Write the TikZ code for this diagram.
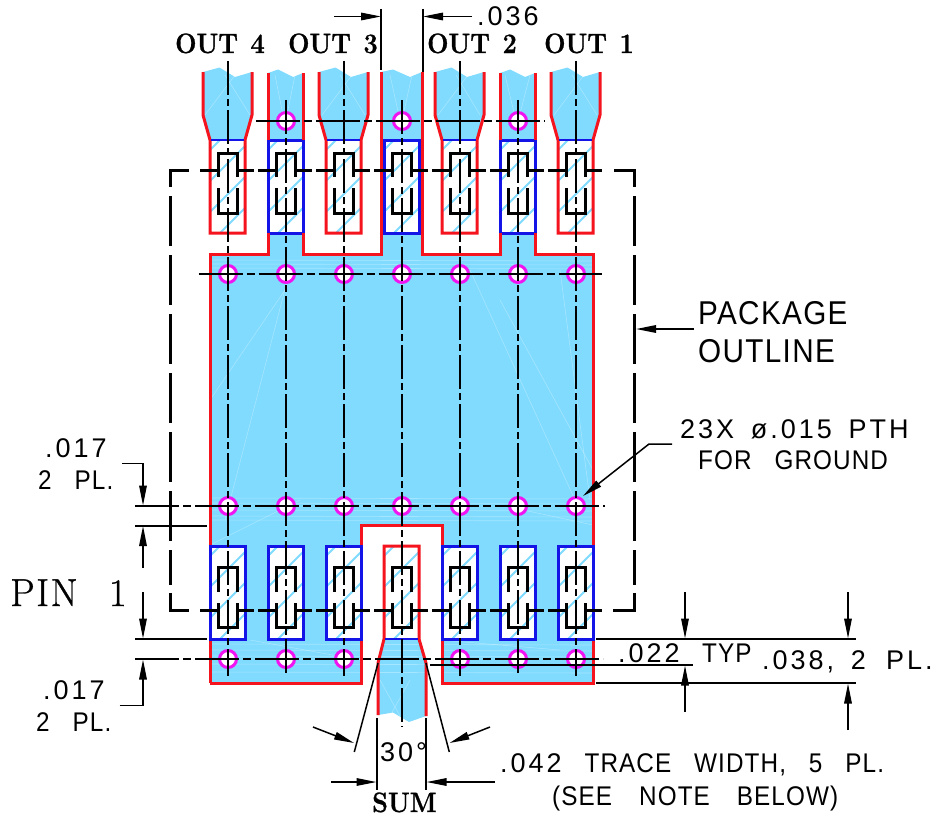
\documentclass[tikz,border=0pt]{standalone}
\usepackage{fontspec}
\usetikzlibrary{arrows.meta,calc}
\newfontfamily\cadl[LetterSpace=4,FakeStretch=.9]{Liberation Sans}
\newfontfamily\cadn[LetterSpace=11]{Liberation Sans}
\newfontfamily\boldf[FakeStretch=.9,BoldFeatures={FakeBold=1}]{Latin Modern Roman}
\newfontfamily\pinf[FakeBold=.8,LetterSpace=4]{Latin Modern Roman}
\definecolor{cu}{HTML}{80DBFF}
\definecolor{redl}{HTML}{F5141E}
\definecolor{bluel}{HTML}{1414E6}
\definecolor{magl}{HTML}{F014F0}
\tikzset{
  x=1pt,y=-1pt,
  copper/.style={fill=cu,draw=none},
  tri/.style={draw=white,opacity=.3,line width=.6pt},
  redline/.style={draw=redl,line width=3pt,line join=miter},
  padblue/.style={draw=bluel,line width=3pt,fill=white},
  hatchl/.style={draw=cu,line width=1.8pt},
  via/.style={draw=magl,line width=3pt,fill=white},
  vcl/.style={draw=black,line width=2pt,dash pattern=on 34pt off 4pt on 7pt off 4pt},
  hcl/.style={draw=black,line width=2pt,dash pattern=on 44pt off 4pt on 8pt off 4pt},
  body/.style={draw=black,line width=3pt},
  pkgc/.style={draw=black,line width=3pt},
  pkg/.style={draw=black,line width=3pt,dash pattern=on 50pt off 9pt},
  dim/.style={draw=black,line width=1.5pt},
  arr/.style={draw=black,line width=1.5pt,-{Triangle[length=20pt,width=7.5pt]}},
  cadt/.style={font=\cadl\fontsize{27}{27}\selectfont,inner sep=0pt,anchor=base west},
  cadv/.style={font=\cadn\fontsize{27}{27}\selectfont,inner sep=0pt,anchor=base west},
  cadb/.style={font=\cadl\fontsize{33}{33}\selectfont,inner sep=0pt,anchor=base west},
  boldt/.style={font=\boldf\bfseries\fontsize{28}{28}\selectfont,inner sep=0pt,anchor=base west},
}
\newcommand{\padhatch}[3]{% centre x, top y, bottom y
  \begin{scope}
    \clip (#1-17.5,#2) rectangle (#1+17.5,#3);
    \foreach \k in {10,41,72,103}
      \draw[hatchl] (#1-17.5,#2+\k) -- (#1+17.5,#2+\k-35);
  \end{scope}}
\newcommand{\wsp}{\hspace{.85em}}
\newcommand{\wsv}{\hspace{.62em}}
\begin{document}
\begin{tikzpicture}
\useasboundingbox (0,0) rectangle (939,816);
% copper
\fill[copper] (210,254) -- (268,254) -- (268,73) -- (278,69.5) -- (293,77) -- (303,73) -- (303,254) -- (381,254) -- (381,72) -- (393,69.5) -- (410,77) -- (422,72) -- (422,254) -- (500,254) -- (500,73) -- (510,69.5) -- (525,77) -- (535,73) -- (535,254) -- (593,254) -- (593,683) -- (442,683) -- (442,525) -- (361,525) -- (361,683) -- (210,683) -- cycle;
\foreach \c in {227.5,343.5,459.5,575.5}
  \fill[copper] (\c-24.5,72) -- (\c-8,67.5) -- (\c+7.5,77) -- (\c+24.5,72) -- (\c+24.5,115) -- (\c+17.5,140) -- (\c-17.5,140) -- (\c-24.5,115) -- cycle;
\fill[copper] (384,639) -- (419,639) -- (426,663) -- (426,716) -- (409,722) -- (393,712.5) -- (378,715) -- (378,663) -- cycle;
% triangulation traces
\foreach \y in {260,264,268,498,503,510,516,520,644,650,656,664,672}
  \draw[tri] (210,\y) -- (593,\y+1);
\foreach \a/\b/\c/\d in {210/400/285/290,225/520/290/270,470/270/575/500,500/300/593/470,560/270/590/500,300/500/210/545,593/525/500/505,440/640/560/650,250/640/360/660,380/680/400/716,410/680/390/716,285/125/275/75,285/125/295/75,401/125/390/75,401/125/412/75,517/125/505/75,517/125/530/75,205/115/235/75,225/75/250/115,322/115/352/75,340/75/365/115,438/115/468/75,456/75/480/115,554/115/584/75,572/75/597/115}
  \draw[tri] (\a,\b) -- (\c,\d);
% pads
\foreach \c in {285.5,401.5,517.5}{
  \draw[padblue] (\c-17.5,140) rectangle (\c+17.5,233);
  \padhatch{\c}{140}{233}
  \draw[bluel,line width=3pt] (\c-17.5,140) rectangle (\c+17.5,233);}
\foreach \c in {227.5,343.5,459.5,575.5}{
  \fill[white] (\c-17.5,140) rectangle (\c+17.5,233);
  \padhatch{\c}{140}{233}}
\foreach \c in {227.5,285.5,343.5,459.5,517.5,575.5}{
  \draw[padblue] (\c-17.5,546) rectangle (\c+17.5,639);
  \padhatch{\c}{546}{639}}
\fill[white] (384,546) rectangle (419,639);
\padhatch{401.5}{546}{639}
% red outlines
\draw[redline] (210,683) -- (210,254) -- (268,254) -- (268,233);
\draw[redline] (268,140) -- (268,73);
\draw[redline] (303,73) -- (303,140);
\draw[redline] (303,233) -- (303,254) -- (381,254) -- (381,72);
\draw[redline] (422,72) -- (422,254) -- (500,254) -- (500,233);
\draw[redline] (500,140) -- (500,73);
\draw[redline] (535,73) -- (535,140);
\draw[redline] (535,233) -- (535,254) -- (593,254) -- (593,546);
\draw[redline] (593,639) -- (593,683) -- (442,683) -- (442,525) -- (361,525) -- (361,683) -- (210,683);
\foreach \c in {227.5,343.5,459.5,575.5}{
  \draw[redline] (\c-24.5,72) -- (\c-24.5,115) -- (\c-17.5,140) -- (\c-17.5,233) -- (\c+17.5,233) -- (\c+17.5,140) -- (\c+24.5,115) -- (\c+24.5,72);
  \draw[bluel,line width=1.8pt] (\c-16.5,140) -- (\c+16.5,140);}
\draw[redline] (378,715) -- (378,663) -- (384,639) -- (384,546) -- (419,546) -- (419,639) -- (426,663) -- (426,716);
\draw[bluel,line width=1.8pt] (385,639) -- (418,639);
\foreach \c in {227.5,285.5,343.5,459.5,517.5,575.5}
  \draw[bluel,line width=3pt] (\c-17.5,546) rectangle (\c+17.5,639);
% vias
\foreach \c in {286,402,518}
  \draw[via] (\c,121) circle (8.5);
\foreach \c in {228,286,344,402,460,518,576}{
  \draw[via] (\c,274) circle (8.5);
  \draw[via] (\c,506) circle (8.5);}
\foreach \c in {228,286,344,460,518,576}
  \draw[via] (\c,659) circle (8.5);
% centre lines
\foreach \c in {228,344,460,576}
  \draw[vcl] (\c,61) -- (\c,676);
\foreach \c in {286,518}
  \draw[vcl] (\c,100) -- (\c,676);
\draw[vcl] (402,100) -- (402,727);
\draw[hcl] (256,121) -- (545,121);
\draw[hcl] (198.5,274) -- (602,274);
\draw[hcl] (135,506) -- (605,506);
\draw[hcl] (135,659) -- (603,659);
% package outline
\draw[pkgc] (189,170) -- (170,170) -- (170,187);
\draw[pkgc] (170,593) -- (170,610) -- (189,610);
\draw[pkgc] (614,170) -- (634,170) -- (634,187);
\draw[pkgc] (634,593) -- (634,610) -- (613,610);
\draw[pkg] (170,196) -- (170,585);
\draw[pkg] (634,196) -- (634,585);
% body outlines
\foreach \c in {227.5,285.5,343.5,401.5,459.5,517.5,575.5}{
  \draw[body] (\c-27.5,170) -- (\c-9.5,170) -- (\c-9.5,153) -- (\c+9.5,153) -- (\c+9.5,170) -- (\c+26,170);
  \draw[body] (\c-9.5,170) -- (\c-9.5,177);
  \draw[body] (\c+9.5,170) -- (\c+9.5,177);
  \draw[body] (\c-9.5,188) -- (\c-9.5,213) -- (\c+9.5,213) -- (\c+9.5,188);
  \draw[body] (\c-9.5,592) -- (\c-9.5,567) -- (\c+9.5,567) -- (\c+9.5,592);
  \draw[body] (\c-27.5,610) -- (\c-9.5,610) -- (\c-9.5,603);
  \draw[body] (\c+26,610) -- (\c+9.5,610) -- (\c+9.5,603);
  \draw[body] (\c-9.5,610) -- (\c-9.5,627) -- (\c+9.5,627) -- (\c+9.5,610);}
% top dimension
\coordinate (t1a) at (381,9);   \coordinate (t1b) at (381,70);
\coordinate (t2a) at (423,9); \coordinate (t2b) at (423,72);
\draw[dim] (t1a) -- (t1b);
\draw[dim] (t2a) -- (t2b);
\draw[arr] (334,16.5) -- (381,16.5);
\draw[arr] (472,16.5) -- (423,16.5);
\node[cadv] (d036) at (477,26) {.036};
% left dimensions
\draw[dim] (135,526) -- (207,526);
\draw[dim] (135,639) -- (207,639);
\draw[arr] (122,463.5) -- (143,463.5) -- (143,505.5);
\draw[arr] (143,568) -- (143,526);
\draw[arr] (143,592) -- (143,638.5);
\draw[arr] (119.5,705.5) -- (143,705.5) -- (143,659.5);
\node[cadv] (l1) at (45,457) {.017};
\node[cadt] (l2) at (38,489) {2\wsp PL.};
\node[cadv] (l3) at (43,699) {.017};
\node[cadt] (l4) at (36,731) {2\wsp PL.};
\node[font=\pinf\fontsize{39}{39}\selectfont,inner sep=0pt,anchor=base west] (pin) at (10,606) {PIN\hspace{.8em}1};
% right dimensions
\draw[dim] (596,639) -- (856,639);
\draw[dim] (430,665) -- (693,665);
\draw[dim] (596,683) -- (856,683);
\draw[arr] (685,592) -- (685,638.5);
\draw[arr] (685,712) -- (685,665.5);
\draw[arr] (848,592) -- (848,638.5);
\draw[arr] (848,730) -- (848,683.5);
\node[cadv] (d022) at (618,662.5) {.022};
\node[cadt] (typ) at (702,662.5) {TYP};
\node[cadv] (d038) at (762,669) {.038,\wsv 2\hspace{.75em}PL.};
% package label
\draw[arr] (694,329) -- (636,329);
\node[cadb] (p1) at (698,324) {PACKAGE};
\node[cadb] (p2) at (698,362) {OUTLINE};
% via label
\draw[arr] (672,444) -- (649,444) -- (583,496);
\node[cadv] (v1) at (680,438) {23X\wsv ø.015\wsv PTH};
\node[cadt] (v2) at (698,469) {FOR\wsp GROUND};
% bottom dimensions
\draw[dim] (378,663) -- (354.3,752);
\draw[dim] (426,663) -- (449.3,752);
\draw[arr] (313,727) -- (354,743);
\draw[arr] (490,727) -- (449.5,743);
\draw[dim] (377,718) -- (377,790);
\draw[dim] (426,718) -- (426,790);
\draw[arr] (331,782) -- (376.5,782);
\draw[arr] (495,782) -- (426.5,782);
\node[cadv] (ang) at (380,761) {30°};
\node[cadt] (t1) at (500,772) {{\cadn .042}\wsp TRACE\wsp WIDTH,\wsp 5\wsp PL.};
\node[cadt] (t2) at (552,805) {(SEE\hspace{1em}NOTE\hspace{1em}BELOW)};
% bold labels
\node[boldt] (o4) at (175,53) {OUT\hspace{.45em}4};
\node[boldt] (o3) at (288,53) {OUT\hspace{.45em}3};
\node[boldt] (o2) at (427,53) {OUT\hspace{.45em}2};
\node[boldt] (o1) at (544,53) {OUT\hspace{.45em}1};
\node[boldt] (sum) at (372,812) {SUM};
\end{tikzpicture}
\end{document}
